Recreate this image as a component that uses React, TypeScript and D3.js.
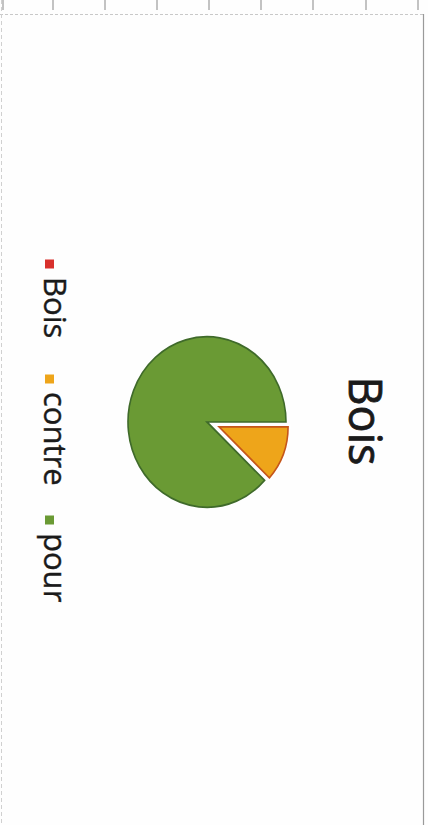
import React from "react";
import * as d3 from "d3";

const categories = ["Bois", "contre", "pour"];
const values = [0, 12, 88];
const colors = ["#d8302c", "#eea51a", "#6a9a34"];
const borderColors = ["#a02020", "#c5561a", "#3f6a2a"];
const title = "Bois";
const rulerTicks = [3, 53, 105, 157, 209, 261, 313, 366, 418];
const legendMarkerPos = [264, 379, 520];

const W = 428;
const H = 825;

export default function App() {
  const pie = d3
    .pie<number>()
    .sort(null)
    .startAngle(Math.PI / 2)
    .endAngle(Math.PI / 2 + 2 * Math.PI)
    .value((d) => d);
  const arcsData = pie(values);

  const cx = 207;
  const cy = 422;
  const rMain = 79;
  const rExploded = 69;
  const explode = 13;
  const arcMain = d3.arc<d3.PieArcDatum<number>>().innerRadius(0).outerRadius(rMain);
  const arcSmall = d3.arc<d3.PieArcDatum<number>>().innerRadius(0).outerRadius(rExploded);

  return (
    <svg
      width={W}
      height={H}
      style={{ position: "fixed", left: 0, top: 0, background: "#fff" }}
      fontFamily="'Open Sans', 'Noto Sans', sans-serif"
    >
      <rect x={0} y={0} width={W} height={H} fill="#fefefe" />
      {/* frame */}
      <line x1={0} y1={14.5} x2={423} y2={14.5} stroke="#c8c8c8" strokeWidth={1} strokeDasharray="3,2" />
      <line x1={423.5} y1={14} x2={423.5} y2={H} stroke="#9a9a9a" strokeWidth={1.2} />
      <line x1={1.5} y1={0} x2={1.5} y2={H} stroke="#d0d0d0" strokeWidth={1} strokeDasharray="4,3" />
      {rulerTicks.map((x, i) => (
        <line key={i} x1={x} y1={0} x2={x} y2={10} stroke="#888" strokeWidth={1} />
      ))}

      {/* title */}
      <text
        transform={`translate(349, 421) rotate(90)`}
        textAnchor="middle"
        fontSize={45}
        stroke="#1a1a1a"
        strokeWidth={0.8}
        fill="#1a1a1a"
      >
        {title}
      </text>

      {/* pie */}
      <g transform={`translate(${cx}, ${cy}) scale(1, 1.08)`}>
        {arcsData.map((a, i) => {
          if (a.value === 0) return null;
          const isExploded = i === 1;
          if (isExploded) {
            const mid = (a.startAngle + a.endAngle) / 2;
            const dx = Math.sin(mid) * explode;
            const dy = (-Math.cos(mid) * explode) / 1.08;
            return (
              <g key={i} transform={`translate(${dx}, ${dy})`}>
                <path d={arcSmall(a) || ""} fill="none" stroke="#fff" strokeWidth={5} />
                <path d={arcSmall(a) || ""} fill={colors[i]} stroke={borderColors[i]} strokeWidth={1.6} />
              </g>
            );
          }
          return (
            <path key={i} d={arcMain(a) || ""} fill={colors[i]} stroke={borderColors[i]} strokeWidth={1.6} />
          );
        })}
      </g>

      {/* legend */}
      {categories.map((c, i) => {
        const y = legendMarkerPos[i];
        return (
          <g key={c}>
            <rect x={45} y={y - 4.5} width={9} height={9} fill={colors[i]} />
            <text
              transform={`translate(44, ${y + 13}) rotate(90)`}
              fontSize={31}
              stroke="#1a1a1a"
              strokeWidth={0.4}
              fill="#1a1a1a"
            >
              {c}
            </text>
          </g>
        );
      })}
    </svg>
  );
}
